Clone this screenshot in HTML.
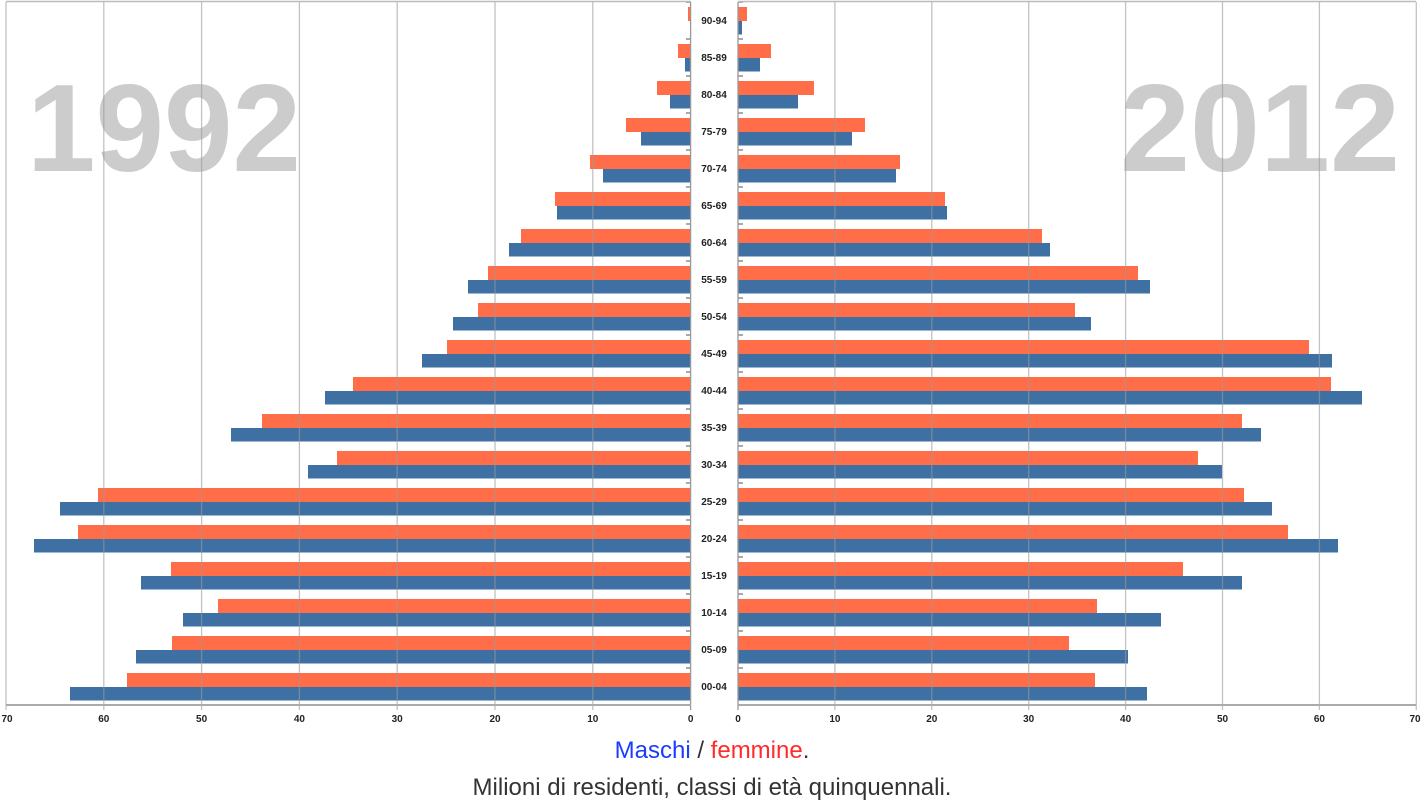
<!DOCTYPE html>
<html><head><meta charset="utf-8"><style>
body{margin:0;background:#fff;width:1425px;height:801px;overflow:hidden;font-family:"Liberation Sans",sans-serif}
</style></head><body>
<svg width="1425" height="801" xmlns="http://www.w3.org/2000/svg" font-family="Liberation Sans, sans-serif">
<text x="27" y="171" font-size="124" font-weight="bold" fill="#cccccc" textLength="274" lengthAdjust="spacingAndGlyphs">1992</text>
<text x="1120" y="171" font-size="124" font-weight="bold" fill="#cccccc" textLength="280" lengthAdjust="spacingAndGlyphs">2012</text>
<g id="bars"></g>
<g id="grid"></g>
<g id="lab"></g>
<text x="712" y="758" font-size="24" text-anchor="middle"><tspan fill="#1a3cff">Maschi</tspan><tspan fill="#333"> / </tspan><tspan fill="#ff2a2a">femmine</tspan><tspan fill="#333">.</tspan></text>
<text x="712" y="795" font-size="24" text-anchor="middle" fill="#333">Milioni di residenti, classi di età quinquennali.</text>
</svg>
<script>
const ns="http://www.w3.org/2000/svg";
function el(p,t,a,txt){const e=document.createElementNS(ns,t);for(const k in a)e.setAttribute(k,a[k]);if(txt)e.textContent=txt;document.getElementById(p).appendChild(e);}
const labels=["90-94","85-89","80-84","75-79","70-74","65-69","60-64","55-59","50-54","45-49","40-44","35-39","30-34","25-29","20-24","15-19","10-14","05-09","00-04"];
const L=[[688,690],[678,685],[657,670],[626,641],[590,603],[555,557],[521,509],[488,468],[478,453],[447,422],[353,325],[262,231],[337,308],[98,60],[78,34],[171,141],[218,183],[172,136],[127,70]];
const R=[[747,742],[771,760],[814,798],[865,852],[900,896],[945,947],[1042,1050],[1138,1150],[1075,1091],[1309,1332],[1331,1362],[1242,1261],[1198,1222],[1244,1272],[1288,1338],[1183,1242],[1097,1161],[1069,1128],[1095,1147]];
const OR="#ff6e48",BL="#3f70a3";
for(let i=0;i<19;i++){
 const t=2+37*i;
 el("bars","rect",{x:L[i][0],y:t+5,width:691-L[i][0],height:14,fill:OR});
 el("bars","rect",{x:L[i][1],y:t+19,width:691-L[i][1],height:13.5,fill:BL});
 el("bars","rect",{x:738,y:t+5,width:R[i][0]-738,height:14,fill:OR});
 el("bars","rect",{x:738,y:t+19,width:R[i][1]-738,height:13.5,fill:BL});
 el("lab","text",{x:714,y:t+22,"font-size":10,"font-weight":"bold","text-anchor":"middle",fill:"#222"},labels[i]);
 el("grid","line",{x1:686,x2:691,y1:t,y2:t,stroke:"#aaa","stroke-width":2});
 el("grid","line",{x1:738,x2:743,y1:t,y2:t,stroke:"#aaa","stroke-width":2});
}
for(let k=0;k<=7;k++){
 const xl=690.6-97.8*k, xr=738+96.9*k;
 el("grid","line",{x1:xl,x2:xl,y1:2,y2:710,stroke:"#999","stroke-width":1.3,"stroke-opacity":k==0?1:0.6});
 el("grid","line",{x1:xr,x2:xr,y1:2,y2:710,stroke:"#999","stroke-width":1.3,"stroke-opacity":k==0?1:0.6});
 el("lab","text",{x:k==7?7:xl,y:722,"font-size":10,"font-weight":"bold","text-anchor":"middle",fill:"#222"},String(k*10));
 el("lab","text",{x:k==7?1415:xr,y:722,"font-size":10,"font-weight":"bold","text-anchor":"middle",fill:"#222"},String(k*10));
}
el("grid","line",{x1:6,x2:691,y1:705,y2:705,stroke:"#aaa","stroke-width":2});
el("grid","line",{x1:738,x2:1416,y1:705,y2:705,stroke:"#aaa","stroke-width":2});
el("grid","line",{x1:6,x2:691,y1:1.5,y2:1.5,stroke:"#bbb","stroke-width":1.5});
el("grid","line",{x1:738,x2:1416,y1:1.5,y2:1.5,stroke:"#bbb","stroke-width":1.5});
</script>
</body></html>
